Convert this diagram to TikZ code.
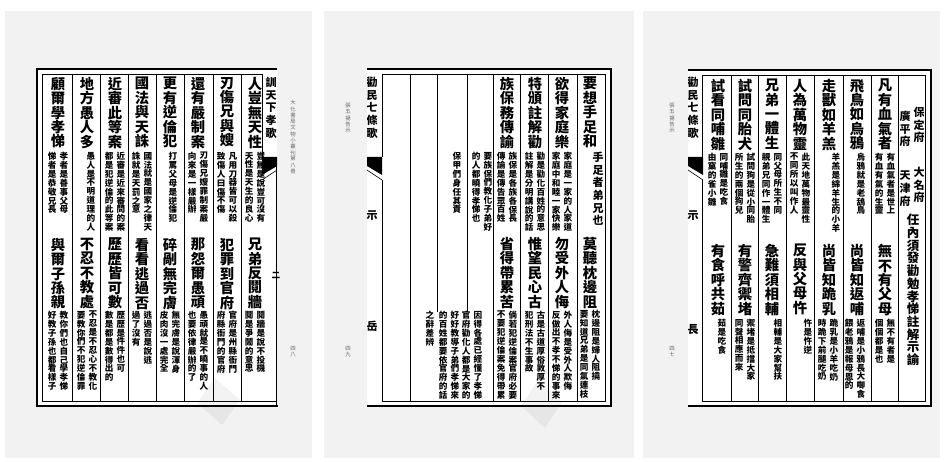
\documentclass[tikz,border=0pt]{standalone}
\usepackage{fontspec}
\newfontfamily\cjk{Noto Sans CJK TC}
\usetikzlibrary{positioning}

% one character per line
\makeatletter
\def\vt#1{\edef\vt@tmp{#1}\expandafter\vt@i\vt@tmp\@nil}
\def\vt@i#1{\ifx\@nil#1\else#1\par\expandafter\vt@i\fi}
\makeatother

\begin{document}
\begin{tikzpicture}[x=1pt,y=-1pt,
  bigchar/.style={font={\cjk\bfseries\parindent=0pt\lineskiplimit=-100pt\fontsize{14.3}{14.4}\selectfont}, text width=15pt, align=center, inner sep=0pt, anchor=north},
  midchar/.style={font={\cjk\bfseries\parindent=0pt\lineskiplimit=-100pt\fontsize{11}{12.6}\selectfont}, text width=12pt, align=center, inner sep=0pt, anchor=north},
  notechar/.style={font={\cjk\bfseries\parindent=0pt\lineskiplimit=-100pt\fontsize{8.6}{8.9}\selectfont}, text width=9pt, align=center, inner sep=0pt, anchor=north},
  tinychar/.style={font={\cjk\parindent=0pt\fontsize{5.4}{6.3}\selectfont}, text=black!60, text width=7pt, align=center, inner sep=0pt, anchor=north},
  page/.style={fill=black!5},
  frame/.style={line width=2.6pt},
  rule/.style={line width=0.6pt},
  scanmark/.style={fill=black!80, opacity=0.06}]
 \useasboundingbox (0,0) rectangle (945,462);

 % ---------- page 1
 \fill[page] (5,11) rectangle (312,458);
 \fill[white] (37,69) rectangle (277,406);
 \draw[frame] (37,69) -- (277,69);
 \draw[frame] (37,67.7) -- (37,407.3);
 \draw[frame] (35.7,406) -- (278,406);
 \draw[rule] (262,74) -- (42,74) -- (42,401) -- (276,401);
 \foreach \x in {72,100,128,156,184,213,241}
   \draw[rule] (\x,74) -- (\x,401);
 \draw[rule] (262,74) -- (262,157);
 \draw[rule] (276,166) -- (276,406);
 \fill (262,157) -- (277,157) -- (277,166) -- (262,175) -- cycle;
 \draw[rule] (262,180) -- (277,170);
 \begin{scope}
   \clip (262,72) rectangle (277,157);
   \node[midchar] (ttl1) at (271,77) {\vt{訓天下孝歌}};
 \end{scope}
 \node[notechar] (mk1) at (276,272) {\vt{二}};

 \foreach \x/\ta/\tb [count=\i] in {255/人豈無天性/兄弟反鬩牆, 227/刃傷兄與嫂/犯罪到官府,
   198/還有嚴制案/那怨爾愚頑, 170/更有逆倫犯/碎剮無完膚, 142/國法與天誅/看看逃過否,
   115/近審此等案/歷歷皆可數, 87/地方愚人多/不忍不教處, 58/顧爾學孝悌/與爾子孫親}
 {
   \node[bigchar] (pa\i) at (\x,77) {\vt{\ta}};
   \node[bigchar] (pb\i) at (\x,238) {\vt{\tb}};
 }
 \foreach \x/\yy/\na/\nb [count=\i] in {255/152/豈無是說豈可沒有/天性是天生的良心,
   227/152/凡用刀器皆可以殺/致傷人曰傷不傷, 198/152/刃傷兄嫂罪制案嚴/向來是一樣嚴辦,
   142/152/國法就是國家之律天/誅就是天罰之意, 115/152/近審是近來審問的案/都是犯逆倫的此等案,
   58/152/孝者是善事父母/悌者是恭敬兄長,
   255/311/鬩牆是說不投機/鬩是爭鬧的意思, 227/311/官府是州縣衙門/府縣衙門的官府,
   198/311/愚頑就是不曉事的人/也要依律嚴辦的了, 170/311/無完膚是說渾身/皮肉沒一處完全,
   142/311/逃過否是說逃/過了沒有, 115/311/歷歷是件件也可/數是都是數得出的,
   87/311/不忍是不忍心不教化/要教你們不犯逆倫罪, 58/311/教你們也自己學孝悌/好教子孫也都看樣子}
 {
   \node[notechar] (pn\i r) at (\x+5.8,\yy) {\vt{\na}};
   \node[notechar] (pn\i l) at (\x-5.8,\yy) {\vt{\nb}};
 }
 \node[notechar] (pn15) at (173,152) {\vt{打罵父母是逆倫犯}};
 \node[notechar] (pn16) at (91,152) {\vt{愚人是不明道理的人}};

 \node[tinychar] (src1) at (293,100) {\vt{大化書局文物小叢刊}};
 \node[tinychar] (vol1) at (293,156) {\vt{第八冊}};
 \node[tinychar] (no1) at (293,346) {\vt{四八}};

 % ---------- page 2
 \fill[page] (324,11) rectangle (634,458);
 \fill[white] (367,69) rectangle (611,406);
 \draw[frame] (367,69) -- (612.3,69);
 \draw[frame] (611,67.7) -- (611,407.3);
 \draw[frame] (367,406) -- (612.3,406);
 \draw[rule] (382,74) -- (605,74) -- (605,401) -- (382,401);
 \draw[rule] (382,74) -- (382,157);
 \draw[rule] (382,180) -- (382,401);
 \foreach \x in {410,493,520,548,577}
   \draw[rule] (\x,74) -- (\x,401);
 \foreach \x in {437,467}
   \draw[rule] (\x,74) -- (\x,312);
 \fill (367,157) -- (382,157) -- (382,175) -- (367,166) -- cycle;
 \draw[rule] (367,170) -- (382,180);
 \begin{scope}
   \clip (367,72) rectangle (382,157);
   \node[midchar] (ttl2) at (372,77) {\vt{勸民七條歌}};
 \end{scope}
 \node[midchar] (sh2) at (372,211) {\vt{示}};
 \node[midchar] (mk2) at (372,321) {\vt{岳}};

 \foreach \x/\ta/\tb [count=\i] in {590/要想手足和/莫聽枕邊阻, 562/欲得家庭樂/勿受外人侮,
   535/特頒註解勸/惟望民心古, 507/族保務傳諭/省得帶累苦}
 {
   \node[bigchar] (qa\i) at (\x,77) {\vt{\ta}};
   \node[bigchar] (qb\i) at (\x,237) {\vt{\tb}};
 }
 \node[midchar] (qn0) at (598,152) {\vt{手足者弟兄也}};
 \foreach \x/\yy/\na/\nb [count=\i] in {562/152/家庭是一家的人家道/家庭中和睦一家快樂,
   535/152/勸是勸化百姓的意思/註解是分明講說的話, 507/152/族保是各族各保長/傳諭是傳告眾百姓,
   482/152/要族保們教化子弟好/的人都曉得孝悌也,
   590/310/枕邊阻是婦人阻撓/要知道兄弟是同氣連枝, 562/311/外人侮是受外人欺侮/反做出不孝不悌的事來,
   535/311/古是古道厚俗敦厚不/犯刑法不生事故, 507/311/倘若犯逆倫案官府必要/不要犯逆倫案免得帶累,
   472/311/因得各處已經懂了孝悌/官府勸化人都是大家的, 449/311/好好教導子弟們孝悌來/的百姓都要依官府的話}
 {
   \node[notechar] (qn\i r) at (\x+5.8,\yy) {\vt{\na}};
   \node[notechar] (qn\i l) at (\x-5.8,\yy) {\vt{\nb}};
 }
 \node[notechar] (qn11) at (457,152) {\vt{保甲們身任其責}};
 \node[notechar] (qn12) at (430,311) {\vt{之辭差辨}};

 \node[tinychar] (src2) at (348,103) {\vt{張五揚告示}};
 \node[tinychar] (no2) at (348,346) {\vt{四九}};

 % ---------- page 3
 \fill[page] (643,11) rectangle (940,458);
 \fill[white] (688,70) rectangle (931,406);
 \draw[frame] (688,70) -- (932.3,70);
 \draw[frame] (931,68.7) -- (931,407.3);
 \draw[frame] (688,406) -- (932.3,406);
 \draw[rule] (702,75) -- (925,75) -- (925,401) -- (702,401);
 \draw[rule] (702,75) -- (702,157);
 \draw[rule] (702,180) -- (702,401);
 \foreach \x in {731,758,786,814,843,871,898}
   \draw[rule] (\x,75) -- (\x,401);
 \fill (688,157) -- (703,157) -- (703,175) -- (688,166) -- cycle;
 \draw[rule] (688,170) -- (703,180);
 \begin{scope}
   \clip (688,73) rectangle (702,157);
   \node[midchar] (ttl3) at (693,77) {\vt{勸民七條歌}};
 \end{scope}
 \node[midchar] (sh3) at (693,211) {\vt{示}};
 \node[midchar] (mk3) at (693,324) {\vt{長}};

 \node[midchar] (hd1) at (919,107) {\vt{保定府}};
 \node[midchar] (hd2) at (905,111) {\vt{廣平府}};
 \node[midchar] (hd3) at (919,167) {\vt{大名府}};
 \node[midchar] (hd4) at (905,171) {\vt{天津府}};
 \node[bigchar, font={\cjk\bfseries\parindent=0pt\lineskiplimit=-100pt\fontsize{12.5}{12.7}\selectfont}] (hd5) at (913,214) {\vt{任內須發勸勉孝悌註解示諭}};

 \foreach \x/\ta/\tb [count=\i] in {885/凡有血氣者/無不有父母, 857/飛鳥如烏鴉/尚皆知返哺,
   829/走獸如羊羔/尚皆知跪乳, 800/人為萬物靈/反與父母忤, 772/兄弟一體生/急難須相輔,
   745/試問同胎犬/有警齊禦堵, 718/試看同哺雛/有食呼共茹}
 {
   \node[bigchar] (ra\i) at (\x,79) {\vt{\ta}};
   \node[bigchar] (rb\i) at (\x,244) {\vt{\tb}};
 }
 \foreach \x/\yy/\na/\nb [count=\i] in {885/153/有血氣者是世上/有血有氣的生靈,
   800/153/此天地萬物最靈性/不同所以叫作人, 772/153/同父母所生不同/親弟兄同作一體生,
   745/153/試問狗是從小同胎/所生的兩個狗兒, 718/153/同哺雛是吃食/由窠的雀小雛,
   885/319/無不有者是/個個都是也, 855/319/返哺是小鴉長大啣食/餵老鴉是報母恩的,
   828/319/跪乳是小羊吃奶/時跪下前腿吃奶, 745/319/禦堵是抵擋大家/同聲相應而來}
 {
   \node[notechar] (rn\i r) at (\x+5.8,\yy) {\vt{\na}};
   \node[notechar] (rn\i l) at (\x-5.8,\yy) {\vt{\nb}};
 }
 \node[notechar] (rn10) at (861,153) {\vt{烏鴉就是老鴰鳥}};
 \node[notechar] (rn11) at (836,153) {\vt{羊羔是綿羊生的小羊}};
 \node[notechar] (rn12) at (808,319) {\vt{忤是忤逆}};
 \node[notechar] (rn13) at (778,319) {\vt{相輔是大家幫扶}};
 \node[notechar] (rn14) at (722,319) {\vt{茹是吃食}};

 \node[tinychar] (src3) at (672,103) {\vt{張五揚告示}};
 \node[tinychar] (no3) at (672,346) {\vt{四七}};

 % faint marks of the scan
 \fill[scanmark] (215,378) -- (240,400) -- (222,425) -- (197,403) -- cycle;
 \fill[scanmark] (538,380) -- (562,402) -- (545,428) -- (521,406) -- cycle;
 \fill[scanmark] (838,318) -- (868,352) -- (846,390) -- (816,356) -- cycle;
\end{tikzpicture}
\end{document}
